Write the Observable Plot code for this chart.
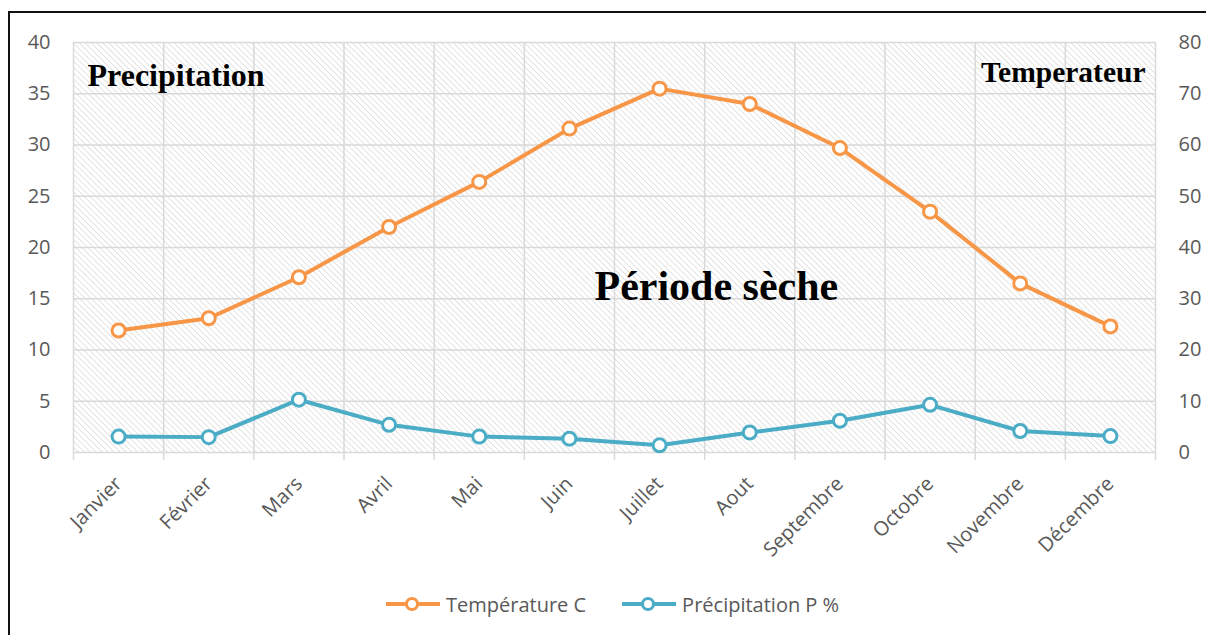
<!DOCTYPE html>
<html><head><meta charset="utf-8">
<script src="https://cdn.jsdelivr.net/npm/d3@7"></script>
<script src="https://cdn.jsdelivr.net/npm/@observablehq/plot@0.6"></script>
<style>
body{margin:0;background:#fff;}
#wrap{position:relative;width:1206px;height:635px;overflow:hidden;font-family:"Open Sans",sans-serif;}
#border{position:absolute;left:8px;top:11px;width:1300px;height:700px;border-left:2px solid #111;border-top:2px solid #111;}
#chart{position:absolute;left:0;top:0;}
#legend{position:absolute;top:590px;left:386px;height:28px;display:flex;align-items:center;font-size:20px;color:#595959;white-space:nowrap;}
.item{display:flex;align-items:center;}
.item svg{margin-right:5px;}
</style></head>
<body>
<div id="wrap">
<div id="border"></div>
<div id="chart"></div>
<div id="legend"></div>
</div>
<script>
const months = ["Janvier","Février","Mars","Avril","Mai","Juin","Juillet","Aout","Septembre","Octobre","Novembre","Décembre"];
const temperature = [11.9,13.1,17.1,22.0,26.4,31.6,35.5,34.0,29.7,23.5,16.5,12.3];
const precipitation = [3.1,3.0,10.3,5.4,3.1,2.7,1.4,3.9,6.2,9.3,4.2,3.2];
const leftTicks = [0,5,10,15,20,25,30,35,40];
const rightTicks = [0,10,20,30,40,50,60,70,80];
const ratio = 2; // P = 2T
const seriesNames = ["Température C","Précipitation P %"];
const colors = ["#F79646","#4BACC6"];
const annotations = ["Precipitation","Temperateur","Période sèche"];

const rows = months.map((m,i)=>({m, x:i+0.5, t:temperature[i], p:precipitation[i]/ratio}));
const bounds = d3.range(months.length+1);

const serif = "'Liberation Serif','Times New Roman',serif";
const svg = Plot.plot({
  width:1206, height:560,
  marginLeft:73, marginRight:51, marginTop:42, marginBottom:108,
  x:{type:"linear", domain:[0,months.length]},
  y:{domain:[0,40]},
  style:{fontFamily:"'Open Sans',sans-serif", fontSize:"20px", background:"transparent", overflow:"visible"},
  marks:[
    Plot.frame({fill:"url(#hatch)", stroke:null}),
    Plot.gridY(leftTicks, {stroke:"#d9d9d9", strokeOpacity:1, strokeWidth:1.5}),
    Plot.gridX(bounds, {stroke:"#d9d9d9", strokeOpacity:1, strokeWidth:1.5, insetBottom:-8}),
    Plot.axisY(leftTicks, {anchor:"left", tickSize:0, tickPadding:23, label:null, color:"#595959", fontSize:20}),
    Plot.axisY(rightTicks.map(v=>v/ratio), {anchor:"right", tickSize:0, tickPadding:23, label:null, color:"#595959", fontSize:20, tickFormat:d=>String(d*ratio)}),
    Plot.axisX(rows.map(d=>d.x), {tickSize:0, tickPadding:28, tickRotate:-45, label:null, color:"#595959", fontSize:20, tickFormat:d=>months[Math.floor(d)]}),
    Plot.line(rows, {x:"x", y:"t", stroke:colors[0], strokeWidth:4}),
    Plot.line(rows, {x:"x", y:"p", stroke:colors[1], strokeWidth:4}),
    Plot.dot(rows, {x:"x", y:"t", r:6.5, fill:"white", stroke:colors[0], strokeWidth:3}),
    Plot.dot(rows, {x:"x", y:"p", r:6.5, fill:"white", stroke:colors[1], strokeWidth:3}),
    Plot.text([annotations[0]], {frameAnchor:"top-left", textAnchor:"start", lineAnchor:"bottom", dx:14, dy:43, fontFamily:serif, fontWeight:"bold", fontSize:32, fill:"#000"}),
    Plot.text([annotations[1]], {frameAnchor:"top-right", textAnchor:"end", lineAnchor:"bottom", dx:-10, dy:39, fontFamily:serif, fontWeight:"bold", fontSize:29.5, fill:"#000"}),
    Plot.text([annotations[2]], {frameAnchor:"top-left", textAnchor:"start", lineAnchor:"bottom", dx:521, dy:257, fontFamily:serif, fontWeight:"bold", fontSize:42, fill:"#000"})
  ]
});
d3.select(svg).insert("defs", ":first-child").html(
  `<pattern id="hatch" patternUnits="userSpaceOnUse" width="4.2" height="4.2" patternTransform="rotate(-45)">
     <rect width="4.2" height="4.2" fill="#ffffff"/>
     <line x1="0" y1="0" x2="0" y2="4.2" stroke="#d8d8d8" stroke-width="1.4"/>
   </pattern>`);
document.getElementById("chart").appendChild(svg);

const legend = document.getElementById("legend");
seriesNames.forEach((name,i)=>{
  const it = document.createElement("div");
  it.className = "item";
  if (i>0) it.style.marginLeft = "36px";
  it.innerHTML = `<svg width="55" height="20"><line x1="0" y1="10" x2="54" y2="10" stroke="${colors[i]}" stroke-width="4"/><circle cx="26" cy="10" r="5.5" fill="white" stroke="${colors[i]}" stroke-width="3"/></svg><span>${name}</span>`;
  legend.appendChild(it);
});
</script>
</body></html>
